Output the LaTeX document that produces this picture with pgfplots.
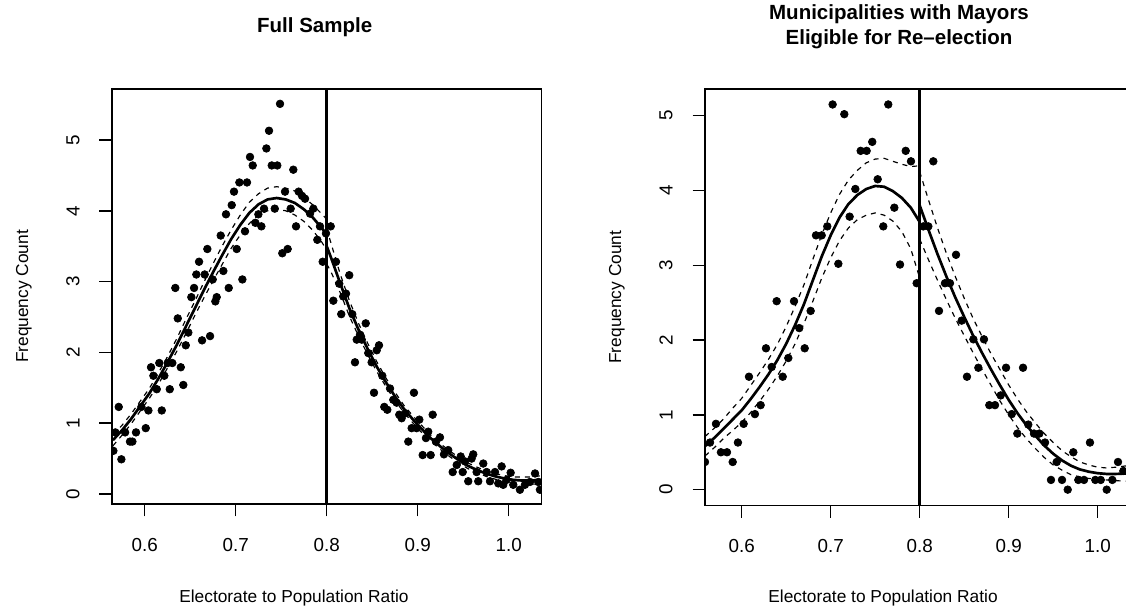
\documentclass[border=0pt]{standalone}
\usepackage{fontspec}
\setmainfont{Liberation Sans}
\usepackage{pgfplots}
\pgfplotsset{compat=1.18}
\newcommand{\rfont}{\fontsize{10.4pt}{12.5pt}\selectfont}
\newcommand{\tfont}{\fontsize{11.3pt}{13.5pt}\selectfont}
\newcommand{\tl}[1]{\mbox{\tfont #1}}
\pgfplotsset{rplot/.style={
  scale only axis, clip marker paths=true,
  axis line style={line width=0.9pt, black},
  tick align=outside, major tick length=7.5pt,
  every tick/.style={line width=0.9pt, black},
  xtick pos=bottom, ytick pos=left,
  xtick={0.6,0.7,0.8,0.9,1.0}, xticklabels={\tl{0.6},\tl{0.7},\tl{0.8},\tl{0.9},\tl{1.0}},
  ytick={0,1,2,3,4,5}, yticklabels={\tl{0},\tl{1},\tl{2},\tl{3},\tl{4},\tl{5}},
  /pgf/number format/assume math mode=true,
  tick label style={font=\tfont, inner sep=0pt},
  xticklabel style={font=\tfont, anchor=north, inner sep=0pt},
  yticklabel style={font=\tfont, rotate=90, anchor=south, inner sep=0pt},
  xticklabel shift=12.9pt, yticklabel shift=11.7pt,
  label style={font=\rfont, inner sep=0pt},
  title style={font=\bfseries\fontsize{12.3pt}{15pt}\selectfont, align=center, anchor=north, inner sep=0pt},
  xlabel={Electorate to Population Ratio},
  ylabel={Frequency Count},
  pts/.style={only marks, mark=*, mark size=2.3pt, black},
  fit/.style={black, line width=1.6pt, no marks},
  band/.style={black, line width=0.7pt, dash pattern=on 3pt off 3pt, no marks},
  cut/.style={black, line width=1.6pt, no marks},
}}
\begin{document}
\begin{tikzpicture}
\path[use as bounding box] (0,0) rectangle (675.6pt,368.4pt);
% ---------------- Left panel ----------------
\begin{axis}[rplot,
  at={(67.2pt,66pt)}, anchor=south west, width=257.8pt, height=249pt,
  xmin=0.564, xmax=1.0363, ymin=-0.141, ymax=5.72,
  title={Full Sample},
  title style={at={(rel axis cs:0.4717,1.149)}},
  xlabel style={at={(rel axis cs:0.4235,-0.206)}, anchor=north},
  ylabel style={at={(rel axis cs:-0.186,0.5)}, anchor=south, rotate=0},
]
\addplot[pts] coordinates {
(0.7487,5.51) (0.7366,5.13) (0.7337,4.88) (0.7157,4.76) (0.7187,4.64) (0.7396,4.64)
(0.7457,4.64) (0.7633,4.58) (0.7040,4.40) (0.7124,4.40) (0.6981,4.27) (0.7542,4.27)
(0.7692,4.27) (0.7729,4.21) (0.7762,4.17) (0.6956,4.08) (0.6893,3.95) (0.7249,3.95)
(0.7311,4.03) (0.7429,4.03) (0.7604,4.03) (0.7853,4.03) (0.7817,3.96) (0.7216,3.83)
(0.7282,3.78) (0.7663,3.78) (0.7926,3.78) (0.8044,3.78) (0.7992,3.68) (0.7102,3.71)
(0.6835,3.65) (0.7512,3.40) (0.7571,3.46) (0.7897,3.59) (0.7956,3.28) (0.7011,3.46)
(0.6688,3.46) (0.6597,3.28) (0.6567,3.10) (0.6659,3.10) (0.6747,3.03) (0.6864,3.15)
(0.7073,3.03) (0.6336,2.91) (0.6542,2.91) (0.6923,2.91) (0.6512,2.78) (0.6791,2.78)
(0.6776,2.72) (0.6363,2.48) (0.6479,2.28) (0.6630,2.17) (0.6718,2.23) (0.6451,2.10)
(0.6069,1.79) (0.6160,1.85) (0.6253,1.85) (0.6303,1.85) (0.6396,1.79) (0.6095,1.67)
(0.6215,1.67) (0.6132,1.48) (0.6275,1.48) (0.6424,1.54) (0.5714,1.23) (0.5963,1.23)
(0.6040,1.18) (0.6187,1.18) (0.5677,0.87) (0.5784,0.87) (0.5904,0.87) (0.5838,0.74)
(0.5864,0.74) (0.6011,0.93) (0.5655,0.61) (0.5743,0.49)
(0.8102,3.28) (0.8248,3.09) (0.8138,2.97) (0.8212,2.83) (0.8073,2.73) (0.8182,2.79)
(0.8160,2.54) (0.8281,2.54) (0.8429,2.41) (0.8366,2.25) (0.8330,2.18) (0.8385,2.18)
(0.8575,2.10) (0.8550,2.03) (0.8457,1.99) (0.8494,1.86) (0.8311,1.86) (0.8611,1.67)
(0.8696,1.49) (0.8520,1.43) (0.8959,1.43) (0.8732,1.33) (0.8769,1.29) (0.8633,1.23)
(0.8666,1.19) (0.8798,1.12) (0.8824,1.07) (0.8864,1.14) (0.9165,1.12) (0.8934,0.93)
(0.8989,0.93) (0.9018,1.05) (0.8897,0.74) (0.9091,0.79) (0.9116,0.88) (0.9055,0.55)
(0.9143,0.55) (0.9201,0.74) (0.9245,0.80) (0.9289,0.56) (0.9336,0.62) (0.9385,0.31)
(0.9429,0.41) (0.9473,0.53) (0.9495,0.31) (0.9520,0.46) (0.9593,0.50) (0.9611,0.56)
(0.9556,0.18) (0.9666,0.18) (0.9648,0.31) (0.9721,0.43) (0.9758,0.31) (0.9795,0.18)
(0.9850,0.31) (0.9886,0.15) (0.9923,0.39) (0.9941,0.13) (0.9978,0.20) (1.0022,0.30)
(1.0051,0.13) (1.0124,0.06) (1.0179,0.13) (1.0234,0.17) (1.0290,0.29) (1.0326,0.17)
(1.0344,0.06)
};
% fitted curve, left of cutoff
\addplot[fit] coordinates {
(0.565,0.76) (0.575,0.90) (0.585,1.06) (0.595,1.24) (0.605,1.42) (0.615,1.63)
(0.625,1.86) (0.635,2.10) (0.645,2.36) (0.655,2.62) (0.665,2.88) (0.675,3.13)
(0.685,3.37) (0.695,3.60) (0.705,3.80) (0.715,3.97) (0.725,4.09) (0.735,4.16)
(0.745,4.18) (0.755,4.16) (0.765,4.11) (0.775,4.02) (0.785,3.90) (0.795,3.75) (0.800,3.66)};
\addplot[band] coordinates {
(0.565,0.84) (0.575,0.97) (0.585,1.13) (0.595,1.31) (0.605,1.49) (0.615,1.71)
(0.625,1.94) (0.635,2.19) (0.645,2.46) (0.655,2.72) (0.665,2.99) (0.675,3.25)
(0.685,3.50) (0.695,3.73) (0.705,3.94) (0.715,4.12) (0.725,4.24) (0.735,4.32)
(0.745,4.34) (0.755,4.32) (0.765,4.28) (0.775,4.19) (0.785,4.08) (0.795,3.95) (0.800,3.88)};
\addplot[band] coordinates {
(0.565,0.68) (0.575,0.83) (0.585,0.99) (0.595,1.17) (0.605,1.35) (0.615,1.55)
(0.625,1.78) (0.635,2.01) (0.645,2.26) (0.655,2.52) (0.665,2.77) (0.675,3.01)
(0.685,3.24) (0.695,3.47) (0.705,3.66) (0.715,3.82) (0.725,3.94) (0.735,4.00)
(0.745,4.02) (0.755,4.00) (0.765,3.94) (0.775,3.85) (0.785,3.72) (0.795,3.55) (0.800,3.44)};
% fitted curve, right of cutoff
\addplot[fit] coordinates {
(0.800,3.50) (0.805,3.33) (0.815,2.97) (0.825,2.62) (0.835,2.32) (0.845,2.05)
(0.855,1.80) (0.865,1.58) (0.875,1.38) (0.885,1.20) (0.895,1.05) (0.905,0.91)
(0.915,0.78) (0.925,0.67) (0.935,0.57) (0.945,0.48) (0.955,0.40) (0.965,0.34)
(0.975,0.29) (0.985,0.25) (0.995,0.22) (1.005,0.20) (1.015,0.19) (1.025,0.19) (1.0363,0.20)};
\addplot[band] coordinates {
(0.800,3.75) (0.805,3.53) (0.815,3.10) (0.825,2.73) (0.835,2.41) (0.845,2.13)
(0.855,1.87) (0.865,1.64) (0.875,1.44) (0.885,1.25) (0.895,1.10) (0.905,0.96)
(0.915,0.82) (0.925,0.71) (0.935,0.61) (0.945,0.52) (0.955,0.44) (0.965,0.38)
(0.975,0.33) (0.985,0.29) (0.995,0.26) (1.005,0.24) (1.015,0.24) (1.025,0.24) (1.0363,0.26)};
\addplot[band] coordinates {
(0.800,3.25) (0.805,3.13) (0.815,2.84) (0.825,2.51) (0.835,2.23) (0.845,1.97)
(0.855,1.73) (0.865,1.52) (0.875,1.32) (0.885,1.15) (0.895,1.00) (0.905,0.86)
(0.915,0.74) (0.925,0.63) (0.935,0.53) (0.945,0.44) (0.955,0.36) (0.965,0.30)
(0.975,0.25) (0.985,0.21) (0.995,0.18) (1.005,0.16) (1.015,0.14) (1.025,0.14) (1.0363,0.14)};
\addplot[cut] coordinates {(0.8,-1) (0.8,7)};
\end{axis}
% ---------------- Right panel ----------------
\begin{axis}[rplot,
  at={(423pt,65.22pt)}, anchor=south west, width=258pt, height=249.78pt,
  xmin=0.5588, xmax=1.0419, ymin=-0.209, ymax=5.357,
  title={Municipalities with Mayors\\Eligible for Re–election},
  title style={at={(rel axis cs:0.4512,1.179)}},
  xlabel style={at={(rel axis cs:0.414,-0.2023)}, anchor=north},
  ylabel style={at={(rel axis cs:-0.186,0.5)}, anchor=south, rotate=0},
]
\addplot[pts] coordinates {
(0.7022,5.15) (0.7153,5.02) (0.7647,5.15) (0.7467,4.65) (0.7337,4.53) (0.7404,4.53)
(0.7528,4.15) (0.7277,4.02) (0.7213,3.65) (0.7591,3.52) (0.6962,3.52) (0.6835,3.40)
(0.6899,3.40) (0.7086,3.02) (0.6393,2.52) (0.6588,2.52) (0.6775,2.39) (0.6647,2.16)
(0.6708,1.89) (0.6273,1.89) (0.6524,1.76) (0.6337,1.64) (0.6082,1.51) (0.6461,1.51)
(0.6213,1.13) (0.6149,1.01) (0.6022,0.88) (0.5711,0.88) (0.5644,0.63) (0.5958,0.63)
(0.5767,0.50) (0.5835,0.50) (0.5899,0.37) (0.5588,0.37)
(0.7843,4.53) (0.7902,4.39) (0.8153,4.39) (0.7715,3.77) (0.7779,3.01) (0.7966,2.76)
(0.8040,3.52) (0.8097,3.52) (0.8408,3.14) (0.8284,2.76) (0.8340,2.76) (0.8217,2.39)
(0.8472,2.26) (0.8603,2.01) (0.8722,2.01) (0.8659,1.63) (0.8531,1.51) (0.8970,1.63)
(0.9161,1.63) (0.8910,1.26) (0.8782,1.13) (0.8846,1.13) (0.9034,1.01) (0.9220,0.87)
(0.9097,0.75) (0.9284,0.75) (0.9344,0.75) (0.9408,0.63) (0.9913,0.63) (0.9539,0.37)
(0.9726,0.50) (1.0228,0.37) (1.0288,0.25) (0.9475,0.13) (0.9599,0.13) (0.9663,0.00)
(0.9782,0.13) (0.9846,0.13) (0.9973,0.13) (1.0034,0.13) (1.0164,0.13) (1.0101,0.00)
};
\addplot[fit] coordinates {
(0.5588,0.58) (0.570,0.70) (0.580,0.82) (0.590,0.94) (0.600,1.06) (0.610,1.21)
(0.620,1.37) (0.630,1.54) (0.640,1.73) (0.650,1.95) (0.660,2.20) (0.670,2.48)
(0.680,2.80) (0.690,3.12) (0.700,3.40) (0.710,3.64) (0.720,3.82) (0.730,3.94)
(0.740,4.02) (0.750,4.06) (0.760,4.05) (0.770,3.99) (0.780,3.90) (0.790,3.77) (0.800,3.58)};
\addplot[band] coordinates {
(0.5588,0.71) (0.570,0.83) (0.580,0.95) (0.590,1.09) (0.600,1.22) (0.610,1.39)
(0.620,1.56) (0.630,1.74) (0.640,1.94) (0.650,2.18) (0.660,2.45) (0.670,2.74)
(0.680,3.08) (0.690,3.41) (0.700,3.70) (0.710,3.95) (0.720,4.14) (0.730,4.27)
(0.740,4.37) (0.750,4.42) (0.760,4.43) (0.770,4.39) (0.780,4.35) (0.790,4.32) (0.800,4.33)};
\addplot[band] coordinates {
(0.5588,0.45) (0.570,0.57) (0.580,0.69) (0.590,0.79) (0.600,0.90) (0.610,1.03)
(0.620,1.18) (0.630,1.34) (0.640,1.52) (0.650,1.72) (0.660,1.95) (0.670,2.22)
(0.680,2.52) (0.690,2.83) (0.700,3.10) (0.710,3.33) (0.720,3.50) (0.730,3.61)
(0.740,3.67) (0.750,3.70) (0.760,3.67) (0.770,3.59) (0.780,3.45) (0.790,3.22) (0.800,2.83)};
\addplot[fit] coordinates {
(0.800,3.80) (0.810,3.47) (0.820,3.15) (0.830,2.85) (0.840,2.57) (0.850,2.31)
(0.860,2.06) (0.870,1.83) (0.880,1.61) (0.890,1.40) (0.900,1.20) (0.910,1.02)
(0.920,0.86) (0.930,0.72) (0.940,0.59) (0.950,0.48) (0.960,0.39) (0.970,0.32)
(0.980,0.27) (0.990,0.24) (1.000,0.22) (1.010,0.21) (1.020,0.21) (1.040,0.22)};
\addplot[band] coordinates {
(0.800,4.25) (0.810,3.87) (0.820,3.50) (0.830,3.16) (0.840,2.85) (0.850,2.56)
(0.860,2.29) (0.870,2.05) (0.880,1.82) (0.890,1.61) (0.900,1.40) (0.910,1.21)
(0.920,1.04) (0.930,0.89) (0.940,0.75) (0.950,0.63) (0.960,0.52) (0.970,0.44)
(0.980,0.37) (0.990,0.33) (1.000,0.30) (1.010,0.29) (1.020,0.30) (1.040,0.33)};
\addplot[band] coordinates {
(0.800,3.35) (0.810,3.07) (0.820,2.80) (0.830,2.54) (0.840,2.29) (0.850,2.06)
(0.860,1.83) (0.870,1.61) (0.880,1.40) (0.890,1.19) (0.900,1.00) (0.910,0.83)
(0.920,0.68) (0.930,0.55) (0.940,0.43) (0.950,0.33) (0.960,0.26) (0.970,0.20)
(0.980,0.17) (0.990,0.15) (1.000,0.14) (1.010,0.13) (1.020,0.12) (1.040,0.11)};
\addplot[cut] coordinates {(0.8,-1) (0.8,7)};
\end{axis}
\end{tikzpicture}
\end{document}
